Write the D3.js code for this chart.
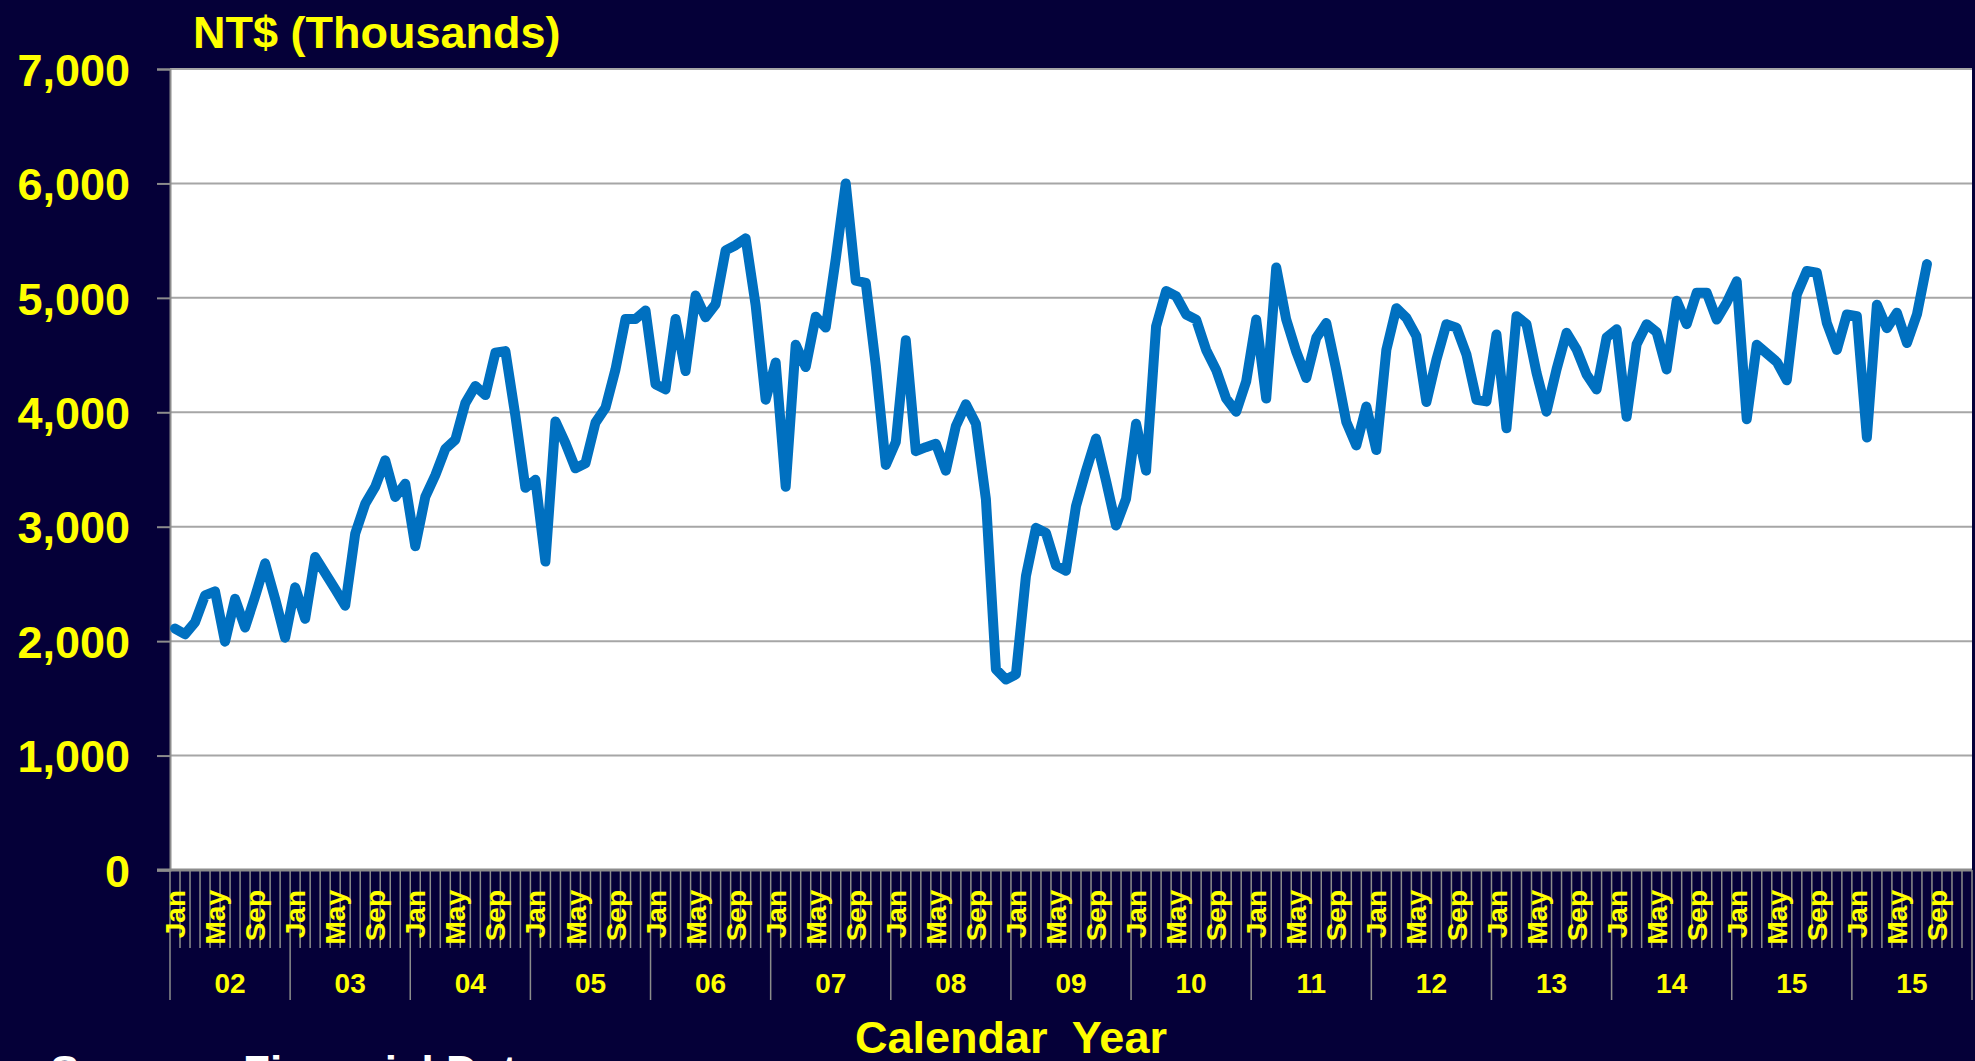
<!DOCTYPE html>
<html>
<head>
<meta charset="utf-8">
<script src="https://cdn.jsdelivr.net/npm/d3@7"></script>
<style>
  html, body { margin: 0; padding: 0; background: #050038; }
  svg { display: block; }
  text { font-family: "Liberation Sans", Arial, sans-serif; font-weight: bold; }
</style>
</head>
<body>
<svg id="chart" width="1975" height="1061"></svg>
<script>
// ---- data ----
const monthNames = ["Jan","Feb","Mar","Apr","May","Jun","Jul","Aug","Sep","Oct","Nov","Dec"];
const labelledMonths = ["Jan","May","Sep"];
const yearLabels = ["02","03","04","05","06","07","08","09","10","11","12","13","14","15","15"];
const yTicks = [0,1000,2000,3000,4000,5000,6000,7000];
// monthly values, NT$ thousands, starting Jan of the first year group
const revenue = [
  2110,2060,2165,2400,2435,1995,2370,2120,2390,2680,2370,2030,
  2470,2195,2735,2595,2455,2310,2940,3200,3350,3580,3260,3375,
  2830,3260,3450,3680,3760,4080,4230,4150,4520,4535,3970,3340,
  3410,2695,3920,3730,3510,3555,3910,4040,4375,4815,4815,4890,
  4245,4200,4815,4360,5020,4830,4945,5415,5460,5520,4935,4110,
  4435,3350,4590,4395,4835,4740,5340,6000,5150,5130,4410,3540,
  3740,4630,3660,3695,3725,3490,3880,4070,3900,3240,1755,1665,
  1710,2570,2990,2945,2660,2615,3180,3490,3770,3400,3010,3245,
  3900,3490,4750,5060,5015,4855,4810,4545,4370,4120,4005,4270,
  4810,4120,5265,4810,4530,4300,4650,4780,4370,3915,3710,4050,
  3670,4545,4910,4825,4665,4090,4460,4770,4740,4505,4110,4095,
  4680,3860,4840,4770,4345,4005,4375,4695,4550,4330,4200,4655,
  4725,3960,4595,4770,4700,4375,4975,4770,5045,5045,4810,4960,
  5145,3940,4590,4515,4440,4280,5030,5235,5220,4780,4545,4855,
  4840,3780,4940,4735,4870,4605,4855,5295
];

// ---- layout ----
const svg = d3.select("#chart");
const W = 1975, H = 1061;
const plot = { left: 170, right: 1972, top: 69, bottom: 870 };
const yellow = "#FFFF00";
const gridGray = "#A6A6A6";
const axisGray = "#8c8c8c";

const categories = [];
yearLabels.forEach((yl, g) => monthNames.forEach((m, k) => categories.push(g + "-" + k)));

const x = d3.scaleBand().domain(categories).range([plot.left, plot.right]).padding(0);
const y = d3.scaleLinear().domain([0, 7000]).range([plot.bottom, plot.top]);
const bw = x.bandwidth();

svg.append("rect").attr("width", W).attr("height", H).attr("fill", "#050038");

// plot area
svg.append("rect")
  .attr("x", plot.left).attr("y", plot.top)
  .attr("width", plot.right - plot.left).attr("height", plot.bottom - plot.top)
  .attr("fill", "#ffffff");

// gridlines
svg.append("g").selectAll("line").data(yTicks.filter(d => d > 0)).join("line")
  .attr("x1", plot.left).attr("x2", plot.right)
  .attr("y1", d => y(d)).attr("y2", d => y(d))
  .attr("stroke", gridGray).attr("stroke-width", 2);

// y axis
const yAxis = d3.axisLeft(y).tickValues(yTicks).tickSize(13).tickPadding(27)
  .tickFormat(d3.format(","));
const gy = svg.append("g").attr("transform", `translate(${plot.left},0)`).call(yAxis);
gy.select(".domain").attr("stroke", axisGray).attr("stroke-width", 2);
gy.selectAll(".tick line").attr("stroke", axisGray).attr("stroke-width", 2);
gy.selectAll(".tick text")
  .attr("fill", yellow).attr("font-size", 45)
  .attr("font-family", "'Liberation Sans', Arial, sans-serif").attr("font-weight", "bold")
  .attr("dy", "0.36em");

// x axis: month tick marks at boundaries
const boundaries = d3.range(categories.length + 1);
svg.append("g").selectAll("line").data(boundaries).join("line")
  .attr("x1", i => i < categories.length ? x(categories[i]) : plot.right)
  .attr("x2", i => i < categories.length ? x(categories[i]) : plot.right)
  .attr("y1", plot.bottom)
  .attr("y2", i => (i % 12 === 0) ? 1000 : 948)
  .attr("stroke", axisGray).attr("stroke-width", 1.5);

// x axis line
svg.append("line")
  .attr("x1", plot.left - 13).attr("x2", plot.right)
  .attr("y1", plot.bottom).attr("y2", plot.bottom)
  .attr("stroke", axisGray).attr("stroke-width", 3);

// month labels
const monthLabelData = [];
yearLabels.forEach((yl, g) => labelledMonths.forEach(m => {
  monthLabelData.push({ key: g + "-" + monthNames.indexOf(m), text: m });
}));
svg.append("g").selectAll("text").data(monthLabelData).join("text")
  .attr("transform", d => `translate(${x(d.key) + bw / 2},890) rotate(-90)`)
  .attr("text-anchor", "end").attr("dy", "0.36em")
  .attr("fill", yellow).attr("font-size", 28)
  .text(d => d.text);

// year labels
svg.append("g").selectAll("text").data(yearLabels).join("text")
  .attr("x", (d, g) => (x(g + "-0") + x(g + "-11") + bw) / 2)
  .attr("y", 993)
  .attr("text-anchor", "middle")
  .attr("fill", yellow).attr("font-size", 28)
  .text(d => d);

// line
const pts = revenue.map((v, i) => ({ key: Math.floor(i / 12) + "-" + (i % 12), v }));
const line = d3.line().x(d => x(d.key) + bw / 2).y(d => y(d.v));
svg.append("path").datum(pts)
  .attr("d", line)
  .attr("fill", "none")
  .attr("stroke", "#0070C0")
  .attr("stroke-width", 10)
  .attr("stroke-linejoin", "round")
  .attr("stroke-linecap", "round");

// titles
svg.append("text").attr("x", 193).attr("y", 48)
  .attr("fill", yellow).attr("font-size", 45).text("NT$ (Thousands)");
svg.append("text").attr("x", 1011).attr("y", 1053).attr("text-anchor", "middle")
  .attr("fill", yellow).attr("font-size", 45).attr("xml:space", "preserve").text("Calendar  Year");
svg.append("text").attr("x", 50).attr("y", 1087)
  .attr("fill", "#ffffff").attr("font-size", 44).text("Source:");
svg.append("text").attr("x", 243).attr("y", 1087)
  .attr("fill", "#ffffff").attr("font-size", 44).text("Financial Data");
</script>
</body>
</html>
